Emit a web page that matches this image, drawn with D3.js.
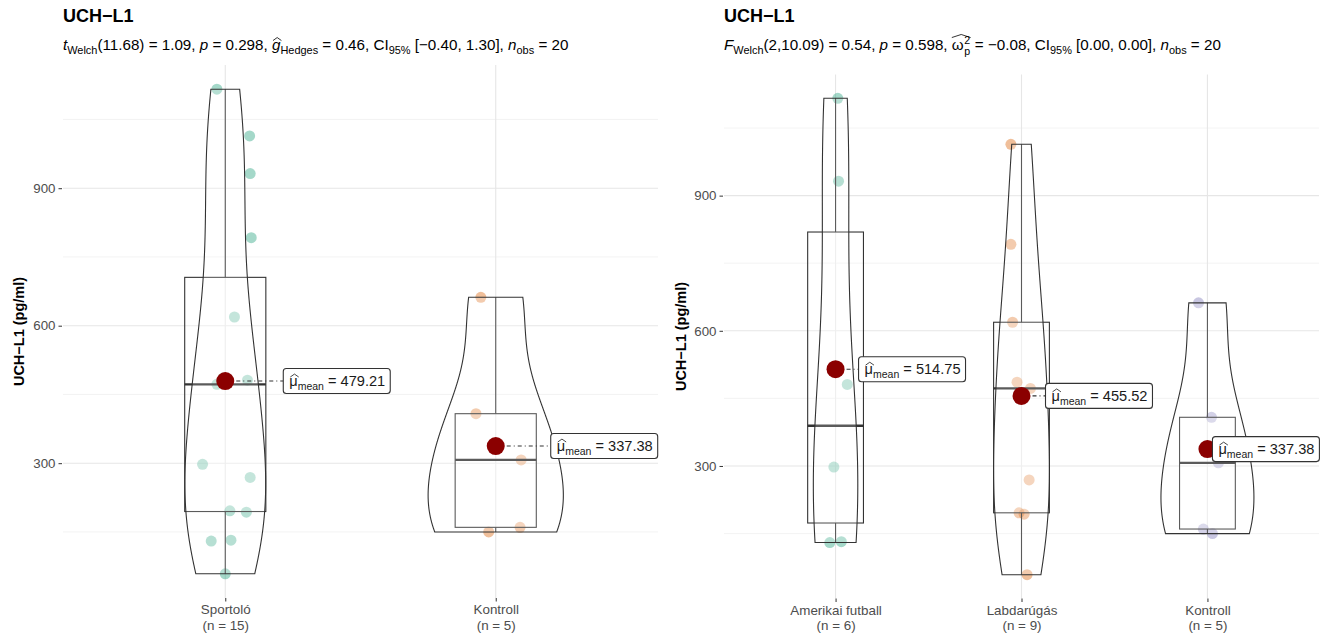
<!DOCTYPE html>
<html>
<head>
<meta charset="utf-8">
<script src="https://cdn.jsdelivr.net/npm/d3@7"></script>
<style>
  body { margin: 0; background: #fff; }
  text { font-family: "Liberation Sans", Arial, Helvetica, sans-serif; white-space: pre; }
</style>
</head>
<body>
<div id="chart"></div>
<script>
// values (pg/ml)
var amerikai = [1116, 932, 481, 297.5, 132, 130];
var labdarugas = [1014, 792, 619, 486, 472, 269, 196, 193, 58.68];
var kontroll = [662, 408, 307, 160, 149.9];
var sportolo = amerikai.concat(labdarugas);

// horizontal jitter of each point, in category units (same order as the values)
var sportoloJitter = [-0.031, 0.092, 0.082, -0.084, 0.021, -0.052,
                      0.090, 0.096, 0.034, -0.007, -0.031, 0.092, 0.017, 0.078, 0.0];
var kontrollJitterL = [-0.055, -0.073, 0.094, 0.090, -0.026];
var amerikaiJitter = [0.012, 0.016, 0.063, -0.009, 0.031, -0.031];
var labdarugasJitter = [-0.057, -0.057, -0.048, -0.024, 0.048, 0.041, -0.013, 0.014, 0.030];
var kontrollJitterR = [-0.048, 0.022, 0.059, -0.022, 0.027];

var yMajorTicks = [300, 600, 900];
var yMinorTicks = [150, 450, 750, 1050];

var titleText = "UCH\u2212L1";
var yTitleText = "UCH\u2212L1 (pg/ml)";

var subtitleLeft = [
  {t: "t", it: true}, {t: "Welch", sub: true}, {t: "(11.68) = 1.09, "},
  {t: "p", it: true}, {t: " = 0.298, "},
  {t: "g", it: true, hat: true}, {t: "Hedges", sub: true}, {t: " = 0.46, CI"},
  {t: "95%", sub: true}, {t: " [\u22120.40, 1.30], "},
  {t: "n", it: true}, {t: "obs", sub: true}, {t: " = 20"}
];
var subtitleRight = [
  {t: "F", it: true}, {t: "Welch", sub: true}, {t: "(2,10.09) = 0.54, "},
  {t: "p", it: true}, {t: " = 0.598, "},
  {t: "\u03c9", hatStart: true}, {stack: ["2", "p"], hatEnd: true}, {t: " = \u22120.08, CI"},
  {t: "95%", sub: true}, {t: " [0.00, 0.00], "},
  {t: "n", it: true}, {t: "obs", sub: true}, {t: " = 20"}
];

var green = "#1b9e77", orange = "#d95f02", purple = "#7570b3";

var panels = [
  {
    x0: 63, x1: 658, y0: 65, y1: 598, yTitleX: 19,
    subtitle: subtitleLeft,
    groups: [
      {name: "Sportoló", values: sportolo, jitter: sportoloJitter, color: green, labelDx: 58},
      {name: "Kontroll", values: kontroll, jitter: kontrollJitterL, color: orange, labelDx: 55}
    ]
  },
  {
    x0: 724, x1: 1319, y0: 74.5, y1: 598.5, yTitleX: 681,
    subtitle: subtitleRight,
    groups: [
      {name: "Amerikai futball", values: amerikai, jitter: amerikaiJitter, color: green, labelDx: 23},
      {name: "Labdarúgás", values: labdarugas, jitter: labdarugasJitter, color: orange, labelDx: 24},
      {name: "Kontroll", values: kontroll, jitter: kontrollJitterR, color: purple, labelDx: 5}
    ]
  }
];

var svgWidth = 1323;
var svgHeight = 639;
var lineCol = "#333333";

var svg = d3.select("#chart")
  .append("svg")
  .attr("width", svgWidth)
  .attr("height", svgHeight);

// draws a run of text pieces (italic, subscripts, hats) left to right
function richText(g, x, y, parts, size, color) {
  var cx = x;
  var hatStartX = null;
  function put(str, px, py, fs, it) {
    var t = g.append("text")
      .attr("x", px).attr("y", py)
      .attr("font-size", fs)
      .attr("fill", color)
      .attr("xml:space", "preserve")
      .style("font-style", it ? "italic" : "normal")
      .text(str);
    return t.node().getComputedTextLength();
  }
  function hat(a, b, base, h) {
    g.append("path")
      .attr("d", "M" + a + "," + base + "L" + ((a + b) / 2) + "," + (base - h) + "L" + b + "," + base)
      .attr("fill", "none")
      .attr("stroke", color)
      .attr("stroke-width", 0.8);
  }
  parts.forEach(function(p) {
    if (p.hatStart) hatStartX = cx;
    var w;
    if (p.stack) {
      var w1 = put(p.stack[0], cx + 0.5, y - size * 0.42, size * 0.7, false);
      var w2 = put(p.stack[1], cx + 0.5, y + size * 0.32, size * 0.7, false);
      w = Math.max(w1, w2) + 1;
    } else if (p.sub) {
      w = put(p.t, cx, y + size * 0.28, size * 0.72, p.it);
    } else {
      w = put(p.t, cx, y, size, p.it);
    }
    if (p.hat) hat(cx + 1, cx + w + 1, y - size * 0.62, size * 0.2);
    if (p.hatEnd) hat(hatStartX, cx + w, y - size * 0.82, size * 0.2);
    cx += w;
  });
  return cx - x;
}

// gaussian kernel density, bandwidth like R's nrd0, trimmed to the data range
function density(values) {
  var s = values.slice().sort(d3.ascending);
  var n = s.length;
  var iqr = d3.quantile(s, 0.75) - d3.quantile(s, 0.25);
  var bw = 0.9 * Math.min(d3.deviation(s), iqr / 1.34) * Math.pow(n, -0.2);
  var lo = s[0], hi = s[n - 1];
  return d3.range(512).map(function(i) {
    var v = lo + (hi - lo) * i / 511;
    var dens = d3.mean(s, function(d) {
      var u = (v - d) / bw;
      return Math.exp(-0.5 * u * u) / Math.sqrt(2 * Math.PI);
    }) / bw;
    return [v, dens];
  });
}

panels.forEach(function(panel) {
  var g = svg.append("g");
  var allValues = d3.merge(panel.groups.map(function(d) { return d.values; }));
  var ext = d3.extent(allValues);
  var pad = (ext[1] - ext[0]) * 0.05;

  var y = d3.scaleLinear()
    .domain([ext[0] - pad, ext[1] + pad])
    .range([panel.y1, panel.y0]);

  var x = d3.scalePoint()
    .domain(panel.groups.map(function(d) { return d.name; }))
    .range([panel.x0, panel.x1])
    .padding(0.6);
  var step = x.step();

  // grid
  g.selectAll(".minor").data(yMinorTicks).enter().append("line")
    .attr("x1", panel.x0).attr("x2", panel.x1)
    .attr("y1", function(d) { return y(d); }).attr("y2", function(d) { return y(d); })
    .attr("stroke", "#f0f0f0").attr("stroke-width", 0.8);
  g.selectAll(".major").data(yMajorTicks).enter().append("line")
    .attr("x1", panel.x0).attr("x2", panel.x1)
    .attr("y1", function(d) { return y(d); }).attr("y2", function(d) { return y(d); })
    .attr("stroke", "#e6e6e6").attr("stroke-width", 1.1);
  g.selectAll(".vgrid").data(panel.groups).enter().append("line")
    .attr("x1", function(d) { return x(d.name); }).attr("x2", function(d) { return x(d.name); })
    .attr("y1", panel.y0).attr("y2", panel.y1)
    .attr("stroke", "#e6e6e6").attr("stroke-width", 1.1);

  // axes
  var leftAxis = d3.axisLeft(y).tickValues(yMajorTicks).tickSize(3.5).tickPadding(3);
  var yAxis = g.append("g")
    .attr("transform", "translate(" + (panel.x0 - 1) + ",0)")
    .call(leftAxis);
  yAxis.select(".domain").remove();
  yAxis.selectAll("line").attr("stroke", lineCol).attr("stroke-width", 1);
  yAxis.selectAll("text").attr("font-size", 13.3).attr("fill", "#4d4d4d")
    .style("font-family", "'Liberation Sans', Arial, sans-serif");

  var bottomAxis = d3.axisBottom(x).tickSize(3.5).tickPadding(3);
  var xAxis = g.append("g")
    .attr("transform", "translate(0," + panel.y1 + ")")
    .call(bottomAxis);
  xAxis.select(".domain").remove();
  xAxis.selectAll("line").attr("stroke", lineCol).attr("stroke-width", 1);
  xAxis.selectAll("text").remove();
  xAxis.selectAll(".tick").each(function(name) {
    var grp = panel.groups.find(function(d) { return d.name === name; });
    var t = d3.select(this).append("text")
      .attr("fill", "#4d4d4d")
      .attr("font-size", 13.4)
      .attr("text-anchor", "middle")
      .style("font-family", "'Liberation Sans', Arial, sans-serif");
    t.append("tspan").attr("x", 0).attr("y", 16).text(name);
    t.append("tspan").attr("x", 0).attr("y", 31.5).text("(n = " + grp.values.length + ")");
  });

  // jittered points
  panel.groups.forEach(function(grp) {
    g.append("g").selectAll("circle")
      .data(grp.values)
      .enter()
      .append("circle")
      .attr("cx", function(d, i) { return x(grp.name) + grp.jitter[i] * step; })
      .attr("cy", function(d) { return y(d); })
      .attr("r", 5.5)
      .attr("fill", grp.color)
      .attr("opacity", 0.4);
  });

  // box plots
  panel.groups.forEach(function(grp) {
    var s = grp.values.slice().sort(d3.ascending);
    var q1 = d3.quantile(s, 0.25), med = d3.quantile(s, 0.5), q3 = d3.quantile(s, 0.75);
    var iqr = q3 - q1;
    var hiW = d3.max(s.filter(function(v) { return v <= q3 + 1.5 * iqr; }));
    var loW = d3.min(s.filter(function(v) { return v >= q1 - 1.5 * iqr; }));
    var cx = x(grp.name);
    var hw = 0.15 * step;
    var bg = g.append("g");
    bg.append("line").attr("x1", cx).attr("x2", cx).attr("y1", y(q3)).attr("y2", y(hiW))
      .attr("stroke", lineCol).attr("stroke-width", 1.1);
    bg.append("line").attr("x1", cx).attr("x2", cx).attr("y1", y(q1)).attr("y2", y(loW))
      .attr("stroke", lineCol).attr("stroke-width", 1.1);
    bg.append("rect")
      .attr("x", cx - hw).attr("width", 2 * hw)
      .attr("y", y(q3)).attr("height", y(q1) - y(q3))
      .attr("fill", "#fff").attr("fill-opacity", 0.2)
      .attr("stroke", lineCol).attr("stroke-width", 1.1);
    bg.append("line").attr("x1", cx - hw).attr("x2", cx + hw).attr("y1", y(med)).attr("y2", y(med))
      .attr("stroke", lineCol).attr("stroke-width", 2.3);
  });

  // violins (area scaling: widest density in the panel gets half width 0.25)
  var dens = panel.groups.map(function(grp) { return density(grp.values); });
  var maxD = d3.max(dens, function(d) { return d3.max(d, function(p) { return p[1]; }); });
  panel.groups.forEach(function(grp, k) {
    var cx = x(grp.name);
    var w = d3.scaleLinear().domain([0, maxD]).range([0, 0.25 * step]);
    var area = d3.area()
      .x0(function(d) { return cx - w(d[1]); })
      .x1(function(d) { return cx + w(d[1]); })
      .y(function(d) { return y(d[0]); });
    g.append("path")
      .datum(dens[k])
      .attr("d", area)
      .attr("fill", "#fff").attr("fill-opacity", 0.2)
      .attr("stroke", lineCol).attr("stroke-width", 1.1);
  });

  // means and their labels
  panel.groups.forEach(function(grp) {
    var m = d3.mean(grp.values);
    var cx = x(grp.name), cy = y(m);
    var lx = cx + grp.labelDx;
    g.append("line")
      .attr("x1", cx).attr("x2", lx).attr("y1", cy).attr("y2", cy)
      .attr("stroke", lineCol).attr("stroke-width", 1.1)
      .attr("stroke-dasharray", "4,3,1,3");
    g.append("circle")
      .attr("cx", cx).attr("cy", cy).attr("r", 9)
      .attr("fill", "#8b0000");
    var lg = g.append("g");
    var tw = richText(lg, lx + 6, cy + 5, [
      {t: "\u03bc", hat: true}, {t: "mean", sub: true}, {t: " = " + d3.format(".2f")(m)}
    ], 14.6, "#1a1a1a");
    lg.insert("rect", ":first-child")
      .attr("x", lx).attr("y", cy - 12.5)
      .attr("width", tw + 11).attr("height", 25)
      .attr("rx", 3).attr("ry", 3)
      .attr("fill", "#fff")
      .attr("stroke", lineCol).attr("stroke-width", 1.1);
  });

  // titles
  g.append("text")
    .attr("x", panel.x0).attr("y", 22)
    .attr("font-size", 18).attr("font-weight", "bold")
    .attr("fill", "#000")
    .text(titleText);
  richText(g.append("g"), panel.x0, 50, panel.subtitle, 15.2, "#000");

  g.append("text")
    .attr("transform", "translate(" + panel.yTitleX + "," + ((panel.y0 + panel.y1) / 2) + ") rotate(-90)")
    .attr("text-anchor", "middle")
    .attr("dy", "0.35em")
    .attr("font-size", 14.5).attr("font-weight", "bold")
    .attr("fill", "#000")
    .text(yTitleText);
});
</script>
</body>
</html>
